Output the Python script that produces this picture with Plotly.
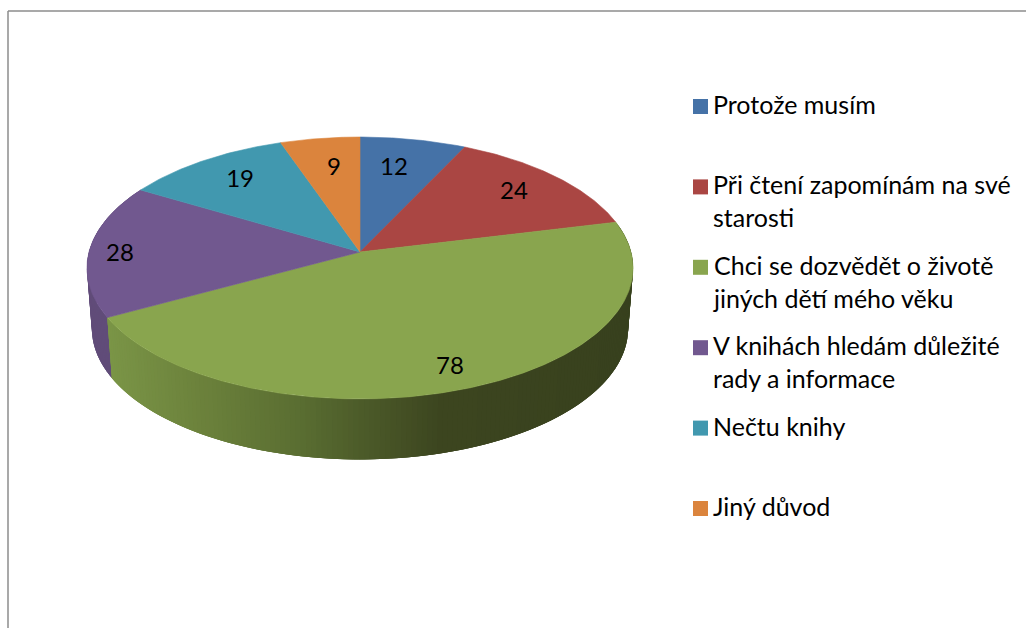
import numpy as np
import plotly.graph_objects as go

# ---- data ----
categories = ["Protože musím", "Při čtení zapomínám na své<br>starosti",
              "Chci se dozvědět o životě<br>jiných dětí mého věku",
              "V knihách hledám důležité<br>rady a informace", "Nečtu knihy", "Jiný důvod"]
values = [12, 24, 78, 28, 19, 9]
colors = ["#4572A7", "#AA4643", "#89A54E", "#71588F", "#4198AF", "#DB843D"]

# ---- projection of the tilted disc (pixel space) ----
CX, CY, RX, RY, K = 360, 252, 271, 129, 0.122
DEPTH, BOTTOM_SCALE = 60.5, 0.982
FONT = "Lato"
LABEL_SIZE = 24
LEGEND_SIZE = 25
LEGEND_X, LEGEND_Y0, LEGEND_DY, SWATCH = 700.5, 106.5, 80.4, 15
LABEL_OFFSETS = [(-4.5, -1.2), (14.5, -4.5), (15.5, 24.1), (-50.6, 4.2), (-7.5, -4.9), (3, -0.4)]
# side shading of the large slice, left to right
SHADE_X = [100, 200, 300, 360, 440, 640]
SHADE_R = [124, 108, 90, 77, 61, 56]
SHADE_G = [151, 130, 110, 92, 70, 65]
SHADE_B = [72, 60, 50, 42, 32, 30]
PURPLE_SIDE = "#604C79"


def project(deg, r=1.0):
    t = np.radians(deg)
    u, v = r * np.sin(t), r * np.cos(t)
    w = 1 + K * v
    return CX + RX * u / w, CY - RY * v / w


def lower(x, y):
    return CX + BOTTOM_SCALE * (x - CX), y + DEPTH


def poly(x, y, color, width=0.6):
    return go.Scatter(x=x, y=y, mode="lines", fill="toself", fillcolor=color,
                      line=dict(color=color, width=width), hoverinfo="skip", showlegend=False)


def shade(mx):
    return "rgb(%d,%d,%d)" % (np.interp(mx, SHADE_X, SHADE_R),
                              np.interp(mx, SHADE_X, SHADE_G),
                              np.interp(mx, SHADE_X, SHADE_B))


edges = np.concatenate([[0], np.cumsum(values)]) / sum(values) * 360
fig = go.Figure()

# side wall: only the slices that face the viewer; each strip runs under the next one
for i in (3, 2):
    a0, a1 = edges[i], edges[i + 1]
    steps = np.arange(a0, a1 + 0.01, 1.0)
    if steps[-1] < a1:
        steps = np.r_[steps, a1]
    if i == 3:
        steps = steps[::-1]  # the purple wall is painted down to its front edge
    for k in range(len(steps) - 1):
        seg = steps[k:k + 4]
        x0, y0 = project(seg)
        bx, by = lower(x0, y0)
        col = PURPLE_SIDE if i == 3 else shade((x0[0] + x0[1]) / 2)
        fig.add_trace(poly(np.r_[x0, bx[::-1], x0[0]], np.r_[y0, by[::-1], y0[0]], col, 0))

# top face
for i, col in enumerate(colors):
    ang = np.linspace(edges[i], edges[i + 1], int(edges[i + 1] - edges[i]) * 2 + 2)
    px, py = project(ang)
    fig.add_trace(poly(np.r_[CX, px, CX], np.r_[CY, py, CY], col))

# data labels
lx, ly = [], []
for i, (dx, dy) in enumerate(LABEL_OFFSETS):
    px, py = project((edges[i] + edges[i + 1]) / 2, 0.7)
    lx.append(px + dx)
    ly.append(py + dy)
fig.add_trace(go.Scatter(x=lx, y=ly, mode="text", text=[str(v) for v in values],
                         textposition="middle center", hoverinfo="skip", showlegend=False,
                         textfont=dict(family=FONT, size=LABEL_SIZE, color="black")))

# legend
leg_y = [LEGEND_Y0 + k * LEGEND_DY for k in range(len(categories))]
fig.add_trace(go.Scatter(x=[LEGEND_X] * len(categories), y=leg_y, mode="markers", hoverinfo="skip",
                         showlegend=False,
                         marker=dict(symbol="square", size=SWATCH, color=colors, line=dict(width=0))))
annotations = [dict(x=712, y=yy - 18.5, xref="x", yref="y", text=c, showarrow=False, align="left",
                    xanchor="left", yanchor="top", borderpad=0,
                    font=dict(family=FONT, size=LEGEND_SIZE, color="black"))
               for c, yy in zip(categories, leg_y)]

fig.update_layout(
    width=1026, height=628, margin=dict(l=0, r=0, t=0, b=0),
    paper_bgcolor="white", plot_bgcolor="white", showlegend=False,
    xaxis=dict(range=[0, 1026], visible=False, fixedrange=True),
    yaxis=dict(range=[628, 0], visible=False, fixedrange=True),
    annotations=annotations,
    shapes=[dict(type="line", xref="x", yref="y", x0=8, x1=8, y0=11, y1=628,
                 line=dict(color="#8C8C8C", width=1.5)),
            dict(type="line", xref="x", yref="y", x0=8, x1=1026, y0=11, y1=11,
                 line=dict(color="#8C8C8C", width=1.5))],
)
fig.write_html("out.html", config=dict(displayModeBar=False),
               post_script="document.body.style.margin='0';document.documentElement.style.overflow='hidden';")
